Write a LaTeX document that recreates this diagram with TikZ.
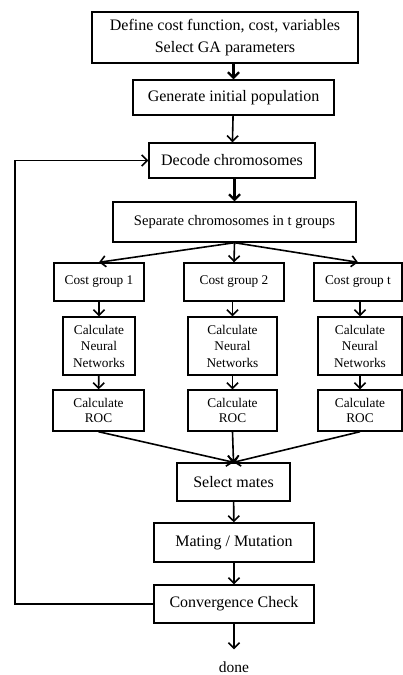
\documentclass[tikz,border=0pt]{standalone}
\usepackage{fontspec}
\setmainfont{Liberation Serif}
\usetikzlibrary{arrows.meta}
\tikzset{
	box/.style={draw,line width=1.4pt,inner sep=0pt,align=center,font=\fontsize{16}{19}\selectfont},
	subbox/.style={box,font=\fontsize{13.3}{15}\selectfont},
	nnbox/.style={box,font=\fontsize{13.3}{16.5}\selectfont},
	flow/.style={->,line width=1.6pt},
	bigflow/.style={->,line width=2.2pt}
}
\begin{document}
\begin{tikzpicture}[>={Straight Barb[length=5.5pt,width=11pt]},x=1pt,y=-1pt]
		\useasboundingbox (0,0) rectangle (403,675);
		% main column
		\node[box,font=\fontsize{16}{21.5}\selectfont,minimum width=266,minimum height=51] (def) at (225,37.5) {Define cost function, cost, variables\\Select GA parameters};
		\node[box,minimum width=201,minimum height=35] (gen) at (233.5,97.5) {Generate initial population};
		\node[box,minimum width=166,minimum height=35] (dec) at (232,160.5) {Decode chromosomes};
		\node[box,font=\fontsize{14.6}{17}\selectfont,minimum width=243,minimum height=40] (sep) at (234.5,222) {Separate chromosomes in t groups};
		% groups
		\node[subbox,minimum width=90,minimum height=38] (cg1) at (99,282) {Cost group 1};
		\node[subbox,minimum width=100,minimum height=38] (cg2) at (234,282) {Cost group 2};
		\node[subbox,minimum width=88,minimum height=38] (cgt) at (358,282) {Cost group t};
		\node[nnbox,minimum width=72,minimum height=58] (nn1) at (99,346) {Calculate\\Neural\\Networks};
		\node[nnbox,minimum width=89,minimum height=58] (nn2) at (232.5,346) {Calculate\\Neural\\Networks};
		\node[nnbox,minimum width=84,minimum height=58] (nnt) at (360,346) {Calculate\\Neural\\Networks};
		\node[subbox,minimum width=91,minimum height=41] (roc1) at (98.5,410.5) {Calculate\\ROC};
		\node[subbox,minimum width=89,minimum height=41] (roc2) at (232.5,410.5) {Calculate\\ROC};
		\node[subbox,minimum width=84,minimum height=41] (roct) at (360,410.5) {Calculate\\ROC};
		% lower column
		\node[box,minimum width=113,minimum height=38] (sel) at (233.5,482) {Select mates};
		\node[box,minimum width=160,minimum height=39] (mat) at (234,542.5) {Mating / Mutation};
		\node[box,minimum width=160,minimum height=38] (con) at (234,604) {Convergence Check};
		\node[font=\fontsize{15.5}{18}\selectfont,inner sep=0pt] (done) at (234,667) {done};
		\coordinate (back) at (15,604);
		% arrows
		\draw[bigflow] (def.south -| gen.north) -- (gen.north);
		\draw[flow] (gen) -- (dec);
		\draw[bigflow] (dec.south -| sep.north) -- (sep.north);
		\foreach \g in {cg1,cg2,cgt}
			\draw[flow] (sep.south) -- (\g.north);
		\draw[flow] (cg1) -- (nn1);
		\draw[flow] (cg2.south -| nn2.north) -- (nn2);
		\draw[flow] (cgt.south -| nnt.north) -- (nnt);
		\draw[flow] (nn1) -- (roc1);
		\draw[flow] (nn2) -- (roc2);
		\draw[flow] (nnt) -- (roct);
		\foreach \r in {roc1,roc2,roct}
			\draw[flow] (\r.south) -- (sel.north);
		\draw[flow] (sel) -- (mat);
		\draw[flow] (mat) -- (con);
		\draw[flow,shorten >=12pt] (con.south) -- (done.north);
		\draw[flow] (con.west) -- (back) |- (dec.west);
		\end{tikzpicture}
\end{document}
